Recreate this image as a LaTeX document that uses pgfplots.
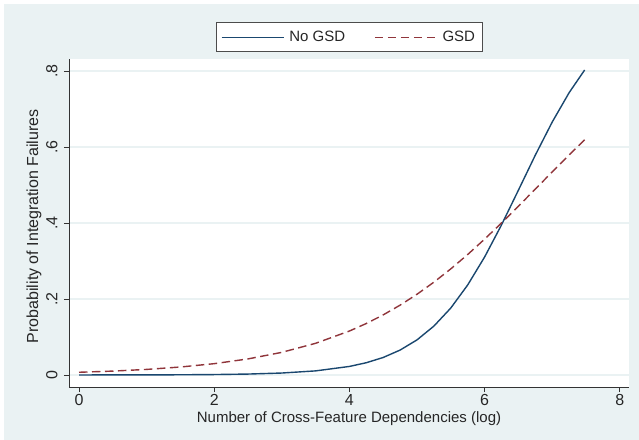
\documentclass[border=0pt]{standalone}
\usepackage{pgfplots}
\pgfplotsset{compat=1.18}
\usepackage{fontspec}
\setmainfont{Liberation Sans}
\definecolor{bgc}{HTML}{EAF2F3}
\definecolor{sblue}{HTML}{1A476F}
\definecolor{sred}{HTML}{90353B}
\newcommand{\sfont}{\fontsize{15bp}{18bp}\selectfont}
\newcommand{\tfont}{\fontsize{16bp}{19bp}\selectfont}
\begin{document}
\begin{tikzpicture}
\fill[white] (0,0) rectangle (639bp,440bp);
\fill[bgc] (4bp,0) rectangle (639bp,436bp);
\begin{axis}[
  at={(69bp,53bp)}, anchor=south west,
  scale only axis, width=560bp, height=328bp,
  xmin=-0.148, xmax=8.136, ymin=-0.0316, ymax=0.8316,
  axis x line*=bottom, axis y line*=left,
  axis line style={black!80, line width=0.8bp},
  axis background/.style={fill=white},
  xtick={0,2,4,6,8},
  ytick={0,0.2,0.4,0.6,0.8},
  yticklabels={0,.2,.4,.6,.8},
  tick align=outside, major tick length=5bp,
  tick style={black!80, line width=0.8bp},
  /pgf/number format/assume math mode=true,
  tick label style={font=\tfont, text=black!85},
  yticklabel style={rotate=90, anchor=south},
  yticklabel shift=3bp,
  xticklabel shift=-1bp,
  ymajorgrids, grid style={bgc, line width=1.5bp},
  xlabel={Number of Cross-Feature Dependencies (log)},
  ylabel={Probability of Integration Failures},
  xlabel style={font=\sfont, text=black!85, at={(rel axis cs:0.5,-0.0656)}, anchor=north},
  ylabel style={font=\tfont, text=black!85, at={(rel axis cs:-0.04286,0.49)}, anchor=south},
  legend columns=2,
  legend style={at={(0.5,1)}, anchor=south, yshift=7bp, draw=black!70,
    line width=0.6bp, fill=white, font=\sfont, text=black!85,
    inner xsep=5bp, inner ysep=6.5bp,
    /tikz/every even column/.append style={column sep=27bp}},
  legend image code/.code={\draw[#1] (0bp,0bp) -- (62bp,0bp); \path (65bp,0bp);},
]
\addplot[sblue, line width=1.4bp] coordinates {
(0,0.0001) (0.5,0.00013) (1,0.00027) (1.5,0.00056) (2,0.00117) (2.5,0.00246)
(3,0.00517) (3.5,0.0108) (4,0.0225) (4.25,0.0323) (4.5,0.0461) (4.75,0.0656)
(5,0.0924) (5.25,0.1287) (5.5,0.1763) (5.75,0.237) (6,0.3105) (6.25,0.395)
(6.5,0.4864) (6.75,0.5786) (7,0.6657) (7.25,0.7429) (7.48,0.8027)
};
\addlegendentry{No GSD}
\addplot[sred, line width=1.4bp, dash pattern=on 8.5bp off 4.5bp] coordinates {
(0,0.00717) (0.5,0.01027) (1,0.01469) (1.5,0.0210) (2,0.0298) (2.5,0.0423)
(3,0.0596) (3.5,0.0834) (4,0.1157) (4.25,0.1355) (4.5,0.1582) (4.75,0.1838)
(5,0.2125) (5.25,0.2443) (5.5,0.2793) (5.75,0.3171) (6,0.3576) (6.25,0.4001)
(6.5,0.4442) (6.75,0.4893) (7,0.5344) (7.25,0.5791) (7.48,0.619)
};
\addlegendentry{GSD\hspace{5bp}}
\end{axis}
\end{tikzpicture}
\end{document}
